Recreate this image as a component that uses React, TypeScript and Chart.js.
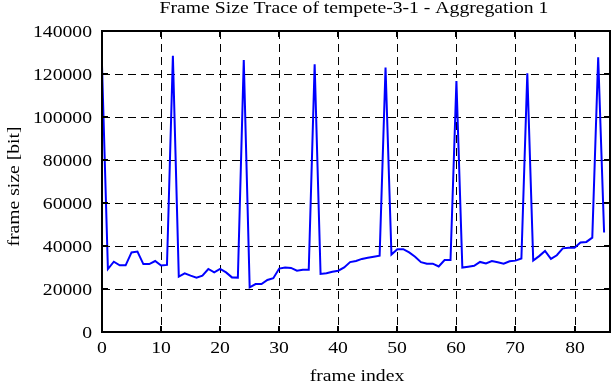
import React, { useEffect, useRef } from "react";
import { Chart, registerables } from "chart.js";

Chart.register(...registerables);

const TITLE = "Frame Size Trace of tempete-3-1 - Aggregation 1";
const X_LABEL = "frame index";
const Y_LABEL = "frame size [bit]";

const frameSizes: number[] = [
  124000, 29300, 32700, 31000, 31000, 37000, 37400, 31600, 31600, 33000,
  30900, 31200, 128500, 25800, 27300, 26200, 25300, 26200, 29300, 27700,
  29300, 27700, 25400, 25300, 126500, 20800, 22300, 22300, 24200, 25000,
  29500, 30000, 29800, 28500, 29000, 29000, 124500, 27000, 27300, 28000,
  28500, 30000, 32500, 33000, 34000, 34500, 35000, 35500, 123000, 36000,
  38500, 38500, 37000, 35000, 32500, 31800, 31800, 30500, 33500, 33500,
  116700, 30000, 30400, 30800, 32600, 31900, 33000, 32400, 31800, 32900,
  33200, 34200, 120300, 33200, 35300, 37700, 34000, 35700, 38900, 39200,
  39200, 41600, 41900, 43900, 127800, 46300,
];
const frameIndex: number[] = frameSizes.map((_, i) => i);

const X_MIN = 0;
const X_MAX = 86;
const X_STEP = 10;
const Y_MIN = 0;
const Y_MAX = 140000;
const Y_STEP = 20000;

const FONT = "'Liberation Serif', 'Times New Roman', serif";
const FONT_SIZE = 16;
const STRETCH = 1.23;

function drawText(ctx: CanvasRenderingContext2D, text: string, x: number, y: number, align: CanvasTextAlign, rotate = false) {
  ctx.save();
  ctx.translate(x, y);
  if (rotate) ctx.rotate(-Math.PI / 2);
  ctx.scale(STRETCH, 1);
  ctx.textAlign = align;
  ctx.textBaseline = "alphabetic";
  ctx.font = `${FONT_SIZE}px ${FONT}`;
  ctx.fillStyle = "#000";
  ctx.fillText(text, 0, 0);
  ctx.restore();
}

const framePlugin = {
  id: "gnuplotFrame",
  beforeDatasetsDraw(chart: any) {
    const { ctx, chartArea: a, scales } = chart;
    ctx.save();
    ctx.strokeStyle = "#000";
    ctx.lineWidth = 1;
    ctx.setLineDash([8, 5]);
    scales.x.ticks.forEach((t: any) => {
      const px = Math.round(scales.x.getPixelForValue(t.value)) + 0.5;
      if (px <= a.left + 2 || px >= a.right - 2) return;
      ctx.beginPath();
      ctx.moveTo(px, a.top);
      ctx.lineTo(px, a.bottom);
      ctx.stroke();
    });
    scales.y.ticks.forEach((t: any) => {
      const py = Math.round(scales.y.getPixelForValue(t.value)) + 0.5;
      if (py <= a.top + 2 || py >= a.bottom - 2) return;
      ctx.beginPath();
      ctx.moveTo(a.left, py);
      ctx.lineTo(a.right, py);
      ctx.stroke();
    });
    ctx.restore();
  },
  afterDraw(chart: any) {
    const { ctx, chartArea: a, scales } = chart;
    ctx.save();
    ctx.strokeStyle = "#000";
    ctx.setLineDash([]);
    ctx.lineWidth = 2;
    ctx.strokeRect(a.left, a.top, a.right - a.left, a.bottom - a.top);
    const tl = 6;
    scales.x.ticks.forEach((t: any) => {
      const px = Math.round(scales.x.getPixelForValue(t.value));
      ctx.beginPath();
      ctx.moveTo(px, a.bottom);
      ctx.lineTo(px, a.bottom - tl);
      ctx.moveTo(px, a.top);
      ctx.lineTo(px, a.top + tl);
      ctx.stroke();
      drawText(ctx, String(t.value), px, a.bottom + 21, "center");
    });
    scales.y.ticks.forEach((t: any) => {
      const py = Math.round(scales.y.getPixelForValue(t.value));
      ctx.beginPath();
      ctx.moveTo(a.left, py);
      ctx.lineTo(a.left + tl, py);
      ctx.moveTo(a.right, py);
      ctx.lineTo(a.right - tl, py);
      ctx.stroke();
      drawText(ctx, String(t.value), a.left - 10, py + 6, "right");
    });
    ctx.restore();
    const cx = (a.left + a.right) / 2;
    drawText(ctx, TITLE, cx - 2, 13, "center");
    drawText(ctx, X_LABEL, cx + 1, 381, "center");
    drawText(ctx, Y_LABEL, 19, (a.top + a.bottom) / 2 + 5, "center", true);
  },
};

export default function App() {
  const ref = useRef<HTMLCanvasElement>(null);
  useEffect(() => {
    if (!ref.current) return;
    const chart = new Chart(ref.current, {
      type: "line",
      data: {
        labels: frameIndex,
        datasets: [
          {
            data: frameIndex.map((x, i) => ({ x, y: frameSizes[i] })),
            borderColor: "#0000ff",
            borderWidth: 2,
            pointRadius: 0,
            tension: 0,
            fill: false,
          },
        ],
      },
      options: {
        animation: false,
        responsive: false,
        maintainAspectRatio: false,
        devicePixelRatio: 1,
        layout: { padding: { top: 31, right: 2, left: 0, bottom: 0 } },
        plugins: { legend: { display: false }, tooltip: { enabled: false }, title: { display: false } },
        scales: {
          x: {
            type: "linear",
            min: X_MIN,
            max: X_MAX,
            grid: { display: false },
            border: { display: false },
            ticks: { stepSize: X_STEP, includeBounds: false, display: false },
            afterFit: (s: any) => {
              s.height = 50;
            },
          },
          y: {
            type: "linear",
            min: Y_MIN,
            max: Y_MAX,
            grid: { display: false },
            border: { display: false },
            ticks: { stepSize: Y_STEP, display: false },
            afterFit: (s: any) => {
              s.width = 102;
            },
          },
        },
      },
      plugins: [framePlugin],
    });
    return () => chart.destroy();
  }, []);
  return (
    <div style={{ position: "absolute", left: 0, top: 0, width: 612, height: 382, background: "#fff" }}>
      <canvas ref={ref} width={612} height={382} />
    </div>
  );
}
